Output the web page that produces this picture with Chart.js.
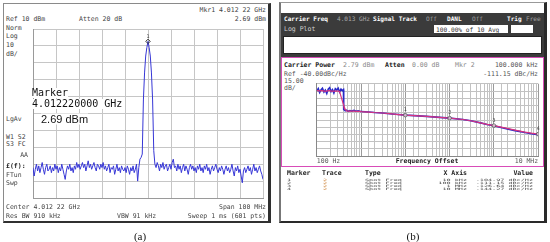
<!DOCTYPE html>
<html>
<head>
<meta charset="utf-8">
<script src="https://cdn.jsdelivr.net/npm/chart.js"></script>
<style>
html,body{margin:0;padding:0;background:#fff;}
body{width:550px;height:242px;overflow:hidden;position:relative;font-family:"DejaVu Sans Mono","Liberation Mono",monospace;}
.box{position:absolute;box-sizing:border-box;}
.t{position:absolute;white-space:nowrap;line-height:1;}
canvas{position:absolute;}
</style>
</head>
<body>
<div class="box" style="left:3px;top:3px;width:268px;height:220px;border-left:1px solid #8a8a8a;border-top:1px solid #8a8a8a;border-right:3px solid #303030;border-bottom:2px solid #303030;"></div>
<div class="box" style="left:279px;top:2px;width:268px;height:221px;border-left:2px solid #777;border-top:1px solid #999;border-right:3px solid #2a2a2a;border-bottom:2px solid #2a2a2a;"></div>
<div class="box" style="left:281px;top:13px;width:263px;height:44px;background:#3b3b3b;"></div>
<div class="box" style="left:283px;top:36px;width:259px;height:18px;background:#fff;border:1px solid #222;"></div>
<div class="box" style="left:434px;top:25px;width:74px;height:8px;background:#fff;"></div>
<div class="box" style="left:511px;top:25px;width:22px;height:8px;background:#fff;"></div>
<div class="box" style="left:281px;top:57px;width:263px;height:110px;border:1.5px solid #d84cb8;background:#fff;"></div>
<canvas id="leftChart" width="240" height="179" style="left:28px;top:24px;"></canvas>
<canvas id="rightChart" width="231" height="87" style="left:312px;top:79px;"></canvas>
<script>
// ---------- Panel (a): spectrum, Center 4.012 22 GHz, Span 100 MHz ----------
const leftStartMHz = -50;
const leftSpanMHz = 100;
const leftTraceDBm = [
 -72,-77,-73,-70,-74,-71,-75,-72,-69,-73,-76,-72,-70,-74,-73,-71,-75,-72,-74,-70,
 -73,-71,-75,-72,-74,-70,-73,-76,-79,-74,-71,-73,-70,-74,-72,-75,-71,-73,-69,-72,
 -70,-73,-71,-69,-72,-70,-74,-71,-68,-72,-70,-73,-71,-69,-72,-74,-70,-71,-73,-70,
 -72,-69,-73,-71,-74,-72,-70,-75,-72,-73,-71,-76,-73,-70,-74,-72,-75,-71,-73,-74,
 -72,-75,-71,-73,-76,-72,-74,-71,-75,-73,-70,-80,-72,-67,
 -66,-64,-32,-16,-6,-1,2.69,-1,-6,-16,-32,-62,-70,
 -72,-69,-71,-74,-70,-72,-69,-73,-71,-70,-74,-72,-70,-73,-69,-67,-72,-71,-74,-70,
 -73,-71,-75,-72,-70,-74,-71,-73,-76,-72,-70,-73,-71,-74,-72,-75,-71,-73,-70,-74,
 -72,-75,-71,-73,-70,-74,-72,-76,-73,-71,-74,-72,-70,-73,-75,-72,-74,-71,-73,-76,
 -73,-71,-74,-72,-75,-73,-70,-74,-77,-72,-74,-71,-75,-73,-77,-81,-74,-72,-75,-73,
 -71,-74,-72,-76,-73,-70,-74,-72,-75,-73,-71,-74,-76,-79
];
const leftMarkerMHz = [0];
const leftMarkerDBm = [2.69];
const leftMarkerNames = ['1'];

// ---------- Panel (b): phase noise, log frequency offset ----------
const rightFreqHz = [100,108,116,125,134,145,156,168,181,195,210,226,243,262,282,304,327,352,379,400,
 405,440,470,510,560,620,690,770,860,960,1000,1500,2000,3000,5000,7000,
 1e4,2e4,3e4,5e4,7e4,1e5,2e5,3e5,5e5,7e5,1e6,2e6,3e6,5e6,7e6,1e7];
const trace1DBcHz = [-55,-50,-58,-52,-49,-57,-53,-60,-51,-48,-56,-52,-59,-50,-53,-49,-57,-51,-54,-52,
 -93,-96,-94.5,-97,-95.5,-96.5,-95,-97,-96,-97.5,-97.5,-98.5,-99.5,-100.5,-102.5,-103.7,
 -104.97,-106.5,-107.5,-109,-110,-111.15,-114,-116.5,-121,-124.5,-127,-133.5,-137,-141,-143.5,-145.5];
const trace2DBcHz = [-54,-54,-55,-54,-54,-55,-55,-55,-54,-54,-55,-55,-55,-55,-55,-55,-56,-66,-76,-83,
 -85,-93,-96,-96.5,-96.5,-96.5,-96.5,-97,-97,-97.2,-97.5,-98.5,-99.5,-100.5,-102.5,-103.7,
 -104.97,-106.5,-107.5,-109,-110,-111.15,-114,-116.5,-121,-124,-126.64,-132.5,-136,-140,-142.3,-144.27];
const markerNames = ['1','2','3','4'];
const markerFreqHz = [1e4,1e5,1e6,1e7];
const markerXLabels = ['10 kHz','100 kHz','1 MHz','10 MHz'];
const markerDBcHz = [-104.97,-111.15,-126.64,-144.27];
const rightTickValues = [100,1e7];
const rightTickLabels = ['100 Hz','10 MHz'];

// ---------- text helper ----------
function T(x,y,s,o){
  o=o||{};
  const d=document.createElement('div');
  d.className='t';
  d.textContent=s;
  d.style.fontSize=(o.size||6.5)+'px';
  if(o.bold) d.style.fontWeight='bold';
  d.style.color=o.color||'#333';
  if(o.family) d.style.fontFamily=o.family;
  if(o.bg) d.style.background=o.bg;
  d.style.top=y+'px';
  let tr='translateY(-50%)';
  if(o.align==='right'){ d.style.right=(550-x)+'px'; d.style.transformOrigin='right center'; }
  else if(o.align==='center'){ d.style.left=x+'px'; tr='translate(-50%,-50%)'; }
  else { d.style.left=x+'px'; d.style.transformOrigin='left center'; }
  if(o.sy) tr+=' scaleY('+o.sy+')';
  d.style.transform=tr;
  if(o.ls!==undefined) d.style.letterSpacing=o.ls+'px';
  document.body.appendChild(d);
  return d;
}

// panel (a) texts
T(6,19,'Ref 10 dBm',{color:'#444'});
T(79,19,'Atten 20 dB',{color:'#444'});
T(266,10,'Mkr1  4.012 22 GHz',{align:'right',color:'#444'});
T(266,19,'2.69 dBm',{align:'right',color:'#444'});
T(6,27.5,'Norm',{color:'#444'});
T(6,36,'Log',{color:'#444'});
T(6,45,'10',{color:'#444'});
T(6,53.5,'dB/',{color:'#444'});
T(6,119,'LgAv',{color:'#444'});
T(6,136.5,'W1  S2',{color:'#444'});
T(6,144,'S3  FC',{color:'#444'});
T(28,155,'AA',{align:'right',color:'#444'});
T(6,166,'£(f):',{color:'#222',bold:true});
T(6,174.5,'FTun',{color:'#444'});
T(6,183,'Swp',{color:'#444'});
T(6,207,'Center 4.012 22 GHz',{color:'#444'});
T(266,207,'Span 100 MHz',{align:'right',color:'#444'});
T(6,216,'Res BW 910 kHz',{color:'#444'});
T(117,216,'VBW 91 kHz',{color:'#444'});
T(266,216,'Sweep 1 ms (601 pts)',{align:'right',color:'#444'});
T(140,235.5,'(a)',{align:'center',size:11,color:'#111',family:'"Liberation Serif","Times New Roman",serif'});

// panel (b) texts
T(284,19,'Carrier Freq',{bold:true,color:'#fff',size:6.1});
T(337,19,'4.013 GHz',{color:'#a8a8a8',size:6.1});
T(373,19,'Signal Track',{bold:true,color:'#fff',size:6.1});
T(426,19,'Off',{color:'#a0a0a0',size:6.1});
T(447,19,'DANL',{bold:true,color:'#fff',size:6.1});
T(472,19,'Off',{color:'#a0a0a0',size:6.1});
T(507,19,'Trig',{bold:true,color:'#fff',size:6.1});
T(526,19,'Free',{color:'#a0a0a0',size:6.1});
T(284,29,'Log Plot',{color:'#cfcfcf'});
T(436,29.5,'100.00% of 10 Avg',{color:'#333',size:6.2});
T(284,65,'Carrier Power',{bold:true,color:'#222'});
T(343,65,'2.79 dBm',{color:'#8a8a8a'});
T(385,65,'Atten',{bold:true,color:'#222'});
T(412,65,'0.00 dB',{color:'#8a8a8a'});
T(455,65,'Mkr 2',{color:'#8a8a8a'});
T(538,65,'100.000 kHz',{align:'right',color:'#555'});
T(284,74,'Ref -40.00dBc/Hz',{color:'#555'});
T(538,74,'-111.15 dBc/Hz',{align:'right',color:'#555'});
T(284,81,'15.00',{color:'#555'});
T(284,87.5,'dB/',{color:'#555'});
T(427,161,'Frequency Offset',{align:'center',bold:true,color:'#222'});
T(287,173,'Marker',{bold:true,color:'#222'});
T(322,173,'Trace',{bold:true,color:'#222'});
T(365,173,'Type',{bold:true,color:'#222'});
T(467,173,'X Axis',{align:'right',bold:true,color:'#222'});
T(533,173,'Value',{align:'right',bold:true,color:'#222'});
markerNames.forEach((n,i)=>{
  const y=179.5+i*3;
  T(287,y,n,{size:6.8,sy:0.45,color:'#444'});
  T(323,y,'2',{size:6.8,sy:0.45,color:'#c87a2a'});
  T(365,y,'Spot Freq',{size:6.8,sy:0.45,color:'#444'});
  T(467,y,markerXLabels[i],{align:'right',size:6.8,sy:0.45,color:'#444'});
  T(533,y,markerDBcHz[i].toFixed(2)+' dBc/Hz',{align:'right',size:6.8,sy:0.45,color:'#444'});
});
T(413,235.5,'(b)',{align:'center',size:11,color:'#111',family:'"Liberation Serif","Times New Roman",serif'});

// marker text box on panel (a)
T(32,93,'Marker',{size:10,color:'#111',bg:'#fff'});
T(32,103.5,'4.012220000 GHz',{size:10,color:'#111',bg:'#fff'});
T(41,118.5,'2.69 dBm',{size:11,color:'#111',bg:'#fff',family:'"Liberation Sans",Arial,sans-serif'});

// ---------- marker label plugin ----------
const markerLabelPlugin = {
  id:'markerLabels',
  afterDatasetsDraw(chart){
    const ctx=chart.ctx;
    chart.data.datasets.forEach((ds,i)=>{
      if(!ds.markerLabels) return;
      const meta=chart.getDatasetMeta(i);
      meta.data.forEach((pt,j)=>{
        ctx.save();
        ctx.font='5px "DejaVu Sans Mono", monospace';
        ctx.fillStyle='#444';
        ctx.textAlign='center';
        ctx.textBaseline='bottom';
        ctx.fillText(ds.markerLabels[j], pt.x, pt.y-2.5);
        ctx.restore();
      });
    });
  }
};

Chart.defaults.animation=false;
Chart.defaults.responsive=false;
Chart.defaults.devicePixelRatio=1;

// ---------- panel (a) chart ----------
const leftStep = leftSpanMHz/(leftTraceDBm.length-1);
new Chart(document.getElementById('leftChart'),{
  type:'line',
  data:{datasets:[
    {data:leftMarkerMHz.map((x,i)=>({x:x,y:leftMarkerDBm[i]})),markerLabels:leftMarkerNames,showLine:false,
     pointStyle:'rectRot',pointRadius:2.2,pointBorderColor:'#333',pointBackgroundColor:'rgba(0,0,0,0)',pointBorderWidth:1},
    {data:leftTraceDBm.map((v,i)=>({x:leftStartMHz+i*leftStep,y:v})),borderColor:'#3636d6',borderWidth:1,pointRadius:0,tension:0,fill:false}
  ]},
  options:{
    layout:{padding:{left:1,top:1,right:1,bottom:1}},
    plugins:{legend:{display:false},tooltip:{enabled:false}},
    scales:{
      x:{type:'linear',min:-50,max:50,ticks:{display:false,stepSize:10},grid:{color:'#c6c6c6',drawTicks:false},border:{color:'#9a9a9a'}},
      y:{type:'linear',min:-90,max:10,ticks:{display:false,stepSize:10},grid:{color:'#c6c6c6',drawTicks:false},border:{color:'#9a9a9a'}}
    }
  },
  plugins:[markerLabelPlugin]
});

// ---------- panel (b) chart ----------
new Chart(document.getElementById('rightChart'),{
  type:'line',
  data:{datasets:[
    {data:markerFreqHz.map((x,i)=>({x:x,y:markerDBcHz[i]})),markerLabels:markerNames,showLine:false,
     pointStyle:'circle',pointRadius:1.8,pointBorderColor:'#555',pointBackgroundColor:'rgba(255,255,255,0.6)',pointBorderWidth:0.8},
    {data:rightFreqHz.map((x,i)=>({x:x,y:trace2DBcHz[i]})),borderColor:'#d9347e',borderWidth:1.2,pointRadius:0,tension:0,fill:false},
    {data:rightFreqHz.map((x,i)=>({x:x,y:trace1DBcHz[i]})),borderColor:'#2a2ac8',borderWidth:1.6,pointRadius:0,tension:0,fill:false}
  ]},
  options:{
    layout:{padding:{left:1,top:1,right:1,bottom:0}},
    plugins:{legend:{display:false},tooltip:{enabled:false}},
    scales:{
      x:{type:'logarithmic',min:100,max:1e7,
         ticks:{autoSkip:false,maxRotation:0,minRotation:0,align:'inner',padding:1,color:'#555',
                font:{family:'"DejaVu Sans Mono", monospace',size:6.5},
                callback:(v)=>{const k=rightTickValues.findIndex(t=>Math.abs(Math.log10(v)-Math.log10(t))<1e-6);return k>=0?rightTickLabels[k]:'';}},
         grid:{drawTicks:false,color:(c)=> (c.tick && c.tick.major) ? '#9a9a9a' : '#c2c2c2'},border:{color:'#888'}},
      y:{type:'linear',min:-190,max:-40,ticks:{display:false,stepSize:15},grid:{color:'#c2c2c2',drawTicks:false},border:{color:'#888'}}
    }
  },
  plugins:[markerLabelPlugin]
});
</script>
</body>
</html>
